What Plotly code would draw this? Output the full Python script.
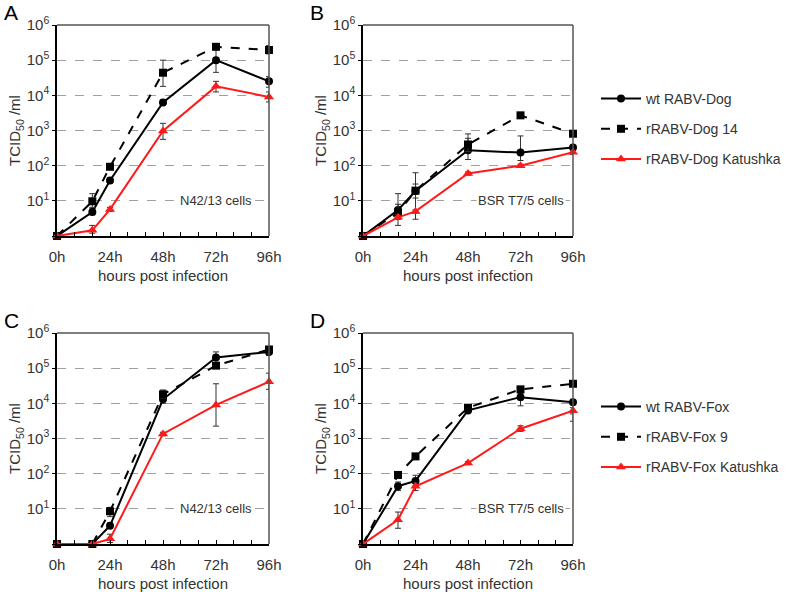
import plotly.graph_objects as go

hours = [0, 16, 24, 48, 72, 96]
x_ticks = [0, 24, 48, 72, 96]
x_ticktext = ["0h", "24h", "48h", "72h", "96h"]
y_ticks = [1, 10, 100, 1000, 10000, 100000, 1000000]
y_ticktext = ["", "10<sup>1</sup>", "10<sup>2</sup>", "10<sup>3</sup>", "10<sup>4</sup>", "10<sup>5</sup>", "10<sup>6</sup>"]

# Panel A (N42/13 cells, Dog)
A_wt = [1, 4.8, 38, 6300, 100000, 25000]
A_wt_hi = [1, 6, 45, 7500, 200000, 34000]
A_wt_lo = [1, 4, 32, 5300, 45000, 17000]
A_r14 = [1, 9.7, 93, 44000, 240000, 195000]
A_r14_hi = [1, 16, 100, 100000, 280000, 260000]
A_r14_lo = [1, 6.5, 85, 18000, 200000, 150000]
A_kat = [1, 1.45, 5.7, 970, 18000, 9000]
A_kat_hi = [1, 2.0, 6.5, 1600, 25000, 12500]
A_kat_lo = [1, 1.2, 5, 560, 12500, 6500]

# Panel B (BSR T7/5 cells, Dog)
B_wt = [1, 5.5, 19, 275, 235, 330]
B_wt_hi = [1, 16, 63, 800, 700, 380]
B_wt_lo = [1, 3, 3, 150, 140, 290]
B_r14 = [1, 4.6, 19.5, 400, 2700, 810]
B_r14_hi = [1, 8, 30, 600, 3000, 900]
B_r14_lo = [1, 3, 12, 250, 2400, 720]
B_kat = [1, 3.4, 5, 60, 100, 240]
B_kat_hi = [1, 4, 5.5, 66, 110, 270]
B_kat_lo = [1, 2, 4.5, 54, 90, 210]

# Panel C (N42/13 cells, Fox)
C_wt = [1, 1, 3.3, 13000, 200000, 290000]
C_wt_hi = [1, 1, 4, 24000, 290000, 320000]
C_wt_lo = [1, 1, 2.8, 10000, 140000, 230000]
C_r14 = [1, 1, 8.5, 18000, 118000, 340000]
C_r14_hi = [1, 1, 11, 22000, 135000, 380000]
C_r14_lo = [1, 1, 6, 14000, 100000, 260000]
C_kat = [1, 1, 1.4, 1350, 9000, 41000]
C_kat_hi = [1, 1, 1.9, 1500, 36000, 72000]
C_kat_lo = [1, 1, 1.1, 1200, 2250, 25000]

# Panel D (BSR T7/5 cells, Fox)
D_wt = [1, 44, 62, 6300, 15000, 10700]
D_wt_hi = [1, 58, 90, 7000, 19000, 13000]
D_wt_lo = [1, 33, 45, 5600, 8500, 3100]
D_r9 = [1, 92, 310, 7500, 25000, 36000]
D_r9_hi = [1, 100, 330, 8500, 30000, 40000]
D_r9_lo = [1, 84, 290, 6600, 21000, 32000]
D_kat = [1, 4.9, 44, 200, 1900, 6200]
D_kat_hi = [1, 8.1, 55, 220, 2300, 7500]
D_kat_lo = [1, 2.8, 33, 180, 1600, 5000]

panel_labels = ["A", "B", "C", "D"]
cell_labels = ["N42/13 cells", "BSR T7/5 cells", "N42/13 cells", "BSR T7/5 cells"]
dog_names = ["wt RABV-Dog", "rRABV-Dog 14", "rRABV-Dog Katushka"]
fox_names = ["wt RABV-Fox", "rRABV-Fox 9", "rRABV-Fox Katushka"]

FONT = "Arial, Liberation Sans, sans-serif"
TXT = "#333333"

W, H = 787, 592
# plot-area pixel boxes (left, right, top, bottom)
boxes = [(57, 269, 25, 236), (363, 573, 25, 236), (57, 269, 333, 544), (363, 573, 333, 544)]

panels = [
    [(A_wt, A_wt_hi, A_wt_lo), (A_r14, A_r14_hi, A_r14_lo), (A_kat, A_kat_hi, A_kat_lo)],
    [(B_wt, B_wt_hi, B_wt_lo), (B_r14, B_r14_hi, B_r14_lo), (B_kat, B_kat_hi, B_kat_lo)],
    [(C_wt, C_wt_hi, C_wt_lo), (C_r14, C_r14_hi, C_r14_lo), (C_kat, C_kat_hi, C_kat_lo)],
    [(D_wt, D_wt_hi, D_wt_lo), (D_r9, D_r9_hi, D_r9_lo), (D_kat, D_kat_hi, D_kat_lo)],
]

styles = [
    dict(color="black", dash="solid", symbol="circle", size=8),
    dict(color="black", dash="dash", symbol="square", size=8),
    dict(color="#ff1a1a", dash="solid", symbol="triangle-up", size=9),
]

fig = go.Figure()
layout = {}
for i, (series, box) in enumerate(zip(panels, boxes)):
    n = "" if i == 0 else str(i + 1)
    xa, ya = "x" + n, "y" + n
    names = dog_names if i < 2 else fox_names
    for j, ((vals, hi, lo), st) in enumerate(zip(series, styles)):
        show = i in (1, 3)
        fig.add_trace(go.Scatter(
            x=hours, y=vals, xaxis=xa, yaxis=ya,
            mode="lines+markers", name=names[j],
            line=dict(color=st["color"], width=2, dash=st["dash"]),
            marker=dict(color=st["color"], symbol=st["symbol"], size=st["size"]),
            error_y=dict(type="data", symmetric=False,
                         array=[h - v for h, v in zip(hi, vals)],
                         arrayminus=[v - l for l, v in zip(lo, vals)],
                         color="#333333", thickness=1, width=3),
            cliponaxis=False,
            showlegend=show,
            legend="legend" if i == 1 else "legend2",
            legendgroup=f"g{i}{j}",
        ))
    l, r, t, b = box
    layout["xaxis" + n] = dict(
        domain=[l / W, r / W], anchor=ya, range=[0, 96], automargin=False,
        tickvals=x_ticks, ticktext=x_ticktext, ticks="inside", ticklen=4,
        ticklabelstandoff=6,
        tickcolor="black", showline=True, linecolor="black", linewidth=1.5,
        showgrid=False, zeroline=False,
        minor=dict(ticks="inside", tickmode="linear", tick0=0, dtick=8, ticklen=4, tickcolor="black", showgrid=False),
        tickfont=dict(family=FONT, size=15, color=TXT),
        title=dict(text="hours post infection", font=dict(family=FONT, size=15, color=TXT), standoff=7),
    )
    layout["yaxis" + n] = dict(
        domain=[1 - b / H, 1 - t / H], anchor=xa, type="log", range=[0, 6], automargin=False,
        tickvals=y_ticks, ticktext=y_ticktext, ticks="outside", ticklen=3,
        tickcolor="black", showline=True, linecolor="black", linewidth=1.5,
        showgrid=True, gridcolor="#a0a0a0", griddash="dash", gridwidth=1,
        zeroline=False,
        tickfont=dict(family=FONT, size=15, color=TXT),
        title=dict(text="TCID<sub>50</sub> /ml", font=dict(family=FONT, size=15, color=TXT), standoff=2),
    )

shapes = []
annotations = []
for i, box in enumerate(boxes):
    n = "" if i == 0 else str(i + 1)
    xa, ya = "x" + n, "y" + n
    shapes.append(dict(type="line", xref=xa + " domain", yref=ya + " domain", x0=0, x1=1, y0=1, y1=1,
                       line=dict(color="#555555", width=1.5)))
    shapes.append(dict(type="line", xref=xa + " domain", yref=ya + " domain", x0=1, x1=1, y0=0, y1=1,
                       line=dict(color="#555555", width=1.5)))
    annotations.append(dict(xref=xa, yref=ya, x=72, y=1, text=cell_labels[i], showarrow=False,
                            bgcolor="white", font=dict(family=FONT, size=13, color=TXT), borderpad=1))
    l, r, t, b = box
    annotations.append(dict(xref="paper", yref="paper", x=(l - 55) / W, y=1 - (t - 13) / H,
                            xanchor="left", yanchor="middle", text=panel_labels[i], showarrow=False,
                            font=dict(family=FONT, size=21, color="black")))

fig.update_layout(
    width=W, height=H, margin=dict(l=0, r=0, t=0, b=0),
    plot_bgcolor="white", paper_bgcolor="white",
    shapes=shapes, annotations=annotations,
    legend=dict(x=596 / W, y=1 - 83 / H, xanchor="left", yanchor="top",
                font=dict(family=FONT, size=14, color=TXT), tracegroupgap=9,
                itemwidth=40, bgcolor="rgba(0,0,0,0)"),
    legend2=dict(x=596 / W, y=1 - 391 / H, xanchor="left", yanchor="top",
                 font=dict(family=FONT, size=14, color=TXT), tracegroupgap=9,
                 itemwidth=40, bgcolor="rgba(0,0,0,0)"),
    **layout,
)
fig.write_html("out.html", config={"displayModeBar": False},
               post_script="document.body.style.margin='0';document.body.style.padding='0';")
